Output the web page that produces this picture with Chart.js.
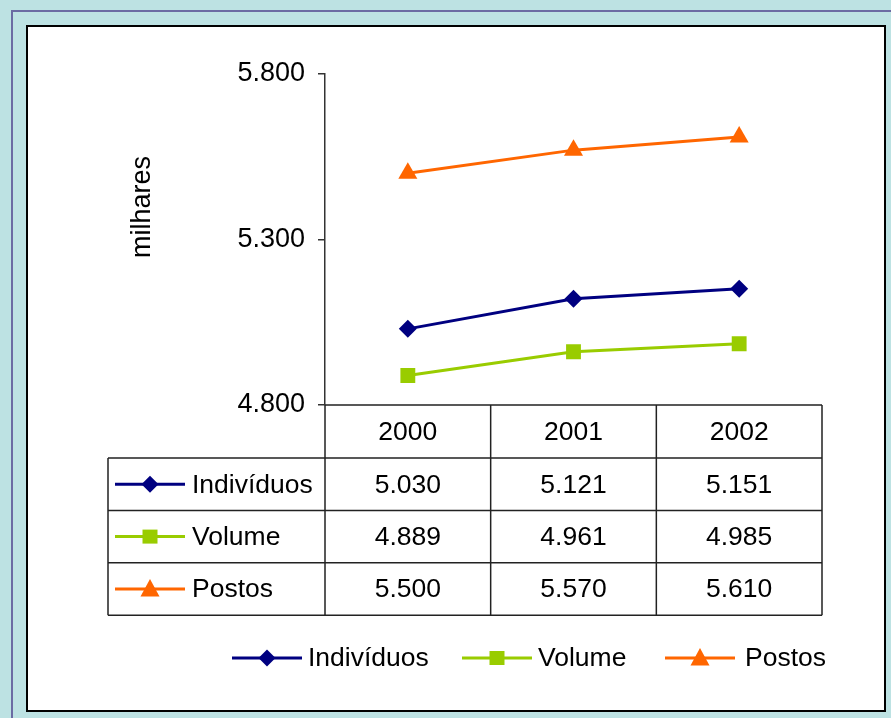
<!DOCTYPE html>
<html>
<head>
<meta charset="utf-8">
<script src="https://cdn.jsdelivr.net/npm/chart.js@4.4.0/dist/chart.umd.min.js"></script>
<style>
  html, body { margin: 0; padding: 0; background: #ffffff; }
  canvas { display: block; }
</style>
</head>
<body>
<canvas id="chart" width="891" height="718"></canvas>
<script>
const years = ['2000', '2001', '2002'];
const individuos = [5030, 5121, 5151];
const volume = [4889, 4961, 4985];
const postos = [5500, 5570, 5610];
const seriesNames = ['Indivíduos', 'Volume', 'Postos'];
const yTitle = 'milhares';

const FONT = '"Liberation Sans", Arial, sans-serif';

// 5030 -> "5.030"
function fmt(n) {
  const s = String(Math.round(n));
  return s.slice(0, -3) + '.' + s.slice(-3);
}

function drawMarker(ctx, style, x, y, color) {
  ctx.save();
  ctx.fillStyle = color;
  ctx.beginPath();
  if (style === 'rectRot') {
    const r = 8.5;
    ctx.moveTo(x, y - r); ctx.lineTo(x + r, y); ctx.lineTo(x, y + r); ctx.lineTo(x - r, y);
  } else if (style === 'rect') {
    ctx.rect(x - 7.5, y - 7, 15, 14);
  } else {
    ctx.moveTo(x, y - 10); ctx.lineTo(x + 9.5, y + 7.5); ctx.lineTo(x - 9.5, y + 7.5);
  }
  ctx.closePath();
  ctx.fill();
  ctx.restore();
}

function legendKey(ctx, ds, x, y) {
  ctx.save();
  ctx.strokeStyle = ds.borderColor;
  ctx.lineWidth = 3;
  ctx.beginPath();
  ctx.moveTo(x, y); ctx.lineTo(x + 70, y);
  ctx.stroke();
  ctx.restore();
  drawMarker(ctx, ds.pointStyle, x + 35, y, ds.backgroundColor);
}

const framePlugin = {
  id: 'frame',
  beforeDraw(chart) {
    const ctx = chart.ctx;
    ctx.save();
    ctx.fillStyle = '#bde2e3';
    ctx.fillRect(0, 0, chart.width, chart.height);
    ctx.fillStyle = '#6b6ba3';
    ctx.fillRect(11, 10, chart.width - 11, 2);
    ctx.fillRect(11, 10, 2, chart.height - 10);
    ctx.fillStyle = '#ffffff';
    ctx.fillRect(26, 25, 860, 687);
    ctx.strokeStyle = '#000000';
    ctx.lineWidth = 2;
    ctx.strokeRect(27, 26, 858, 685);
    ctx.restore();
  },
  afterDraw(chart) {
    const ctx = chart.ctx;
    const xs = chart.scales.x;
    const area = chart.chartArea;
    const n = years.length;
    const colW = (area.right - area.left) / n;
    const top = area.bottom;
    const headH = 53;
    const rowH = 52.4;
    const tableLeft = 108;
    const bottom = top + headH + rowH * 3;

    ctx.save();
    // y-axis title
    ctx.fillStyle = '#000';
    ctx.font = '27px ' + FONT;
    ctx.textAlign = 'center';
    ctx.textBaseline = 'middle';
    ctx.translate(143, 207);
    ctx.rotate(-Math.PI / 2);
    ctx.fillText(yTitle, 0, 0);
    ctx.restore();

    ctx.save();
    ctx.lineWidth = 1.5;
    ctx.strokeStyle = '#222';
    ctx.beginPath();
    // top line (category axis)
    ctx.moveTo(area.left, top); ctx.lineTo(area.right, top);
    for (let r = 0; r <= 3; r++) {
      const y = top + headH + rowH * r;
      ctx.moveTo(tableLeft, y); ctx.lineTo(area.right, y);
    }
    ctx.moveTo(tableLeft, top + headH); ctx.lineTo(tableLeft, bottom);
    for (let i = 0; i <= n; i++) {
      const x = area.left + colW * i;
      ctx.moveTo(x, i === 0 ? area.bottom : top); ctx.lineTo(x, bottom);
    }
    ctx.stroke();

    ctx.fillStyle = '#000';
    ctx.font = '26.5px ' + FONT;
    ctx.textAlign = 'center';
    ctx.textBaseline = 'middle';
    years.forEach((yr, i) => {
      ctx.fillText(yr, xs.getPixelForValue(i), top + headH / 2 + 1);
    });
    chart.data.datasets.forEach((ds, r) => {
      const cy = top + headH + rowH * r + rowH / 2 + 1;
      ds.data.forEach((v, i) => {
        ctx.textAlign = 'center';
        ctx.fillText(fmt(v), xs.getPixelForValue(i), cy);
      });
      legendKey(ctx, ds, 115, cy - 1);
      ctx.textAlign = 'left';
      ctx.fillText(ds.label, 192, cy);
    });

    // bottom legend
    const legendX = [232, 462, 665];
    const textOff = [76, 76, 80];
    const ly = 658;
    chart.data.datasets.forEach((ds, i) => {
      legendKey(ctx, ds, legendX[i], ly);
      ctx.textAlign = 'left';
      ctx.fillText(ds.label, legendX[i] + textOff[i], ly + 1);
    });
    ctx.restore();
  }
};

const ctx = document.getElementById('chart').getContext('2d');
new Chart(ctx, {
  type: 'line',
  data: {
    labels: years,
    datasets: [
      { label: seriesNames[0], data: individuos, borderColor: '#000080', backgroundColor: '#000080', pointStyle: 'rectRot', pointRadius: 9 },
      { label: seriesNames[1], data: volume, borderColor: '#99cc00', backgroundColor: '#99cc00', pointStyle: 'rect', pointRadius: 10.5 },
      { label: seriesNames[2], data: postos, borderColor: '#ff6600', backgroundColor: '#ff6600', pointStyle: 'triangle', pointRadius: 11 }
    ].map(ds => Object.assign(ds, { borderWidth: 3, tension: 0, pointBorderWidth: 0, fill: false }))
  },
  options: {
    responsive: false,
    animation: false,
    events: [],
    font: { family: FONT },
    layout: { padding: { left: 125, top: 74, right: 69, bottom: 313 } },
    plugins: {
      legend: { display: false },
      tooltip: { enabled: false }
    },
    scales: {
      x: { display: false, offset: true },
      y: {
        min: 4800,
        max: 5800,
        afterFit: scale => { scale.width = 200; },
        ticks: {
          stepSize: 500,
          padding: 13,
          color: '#000',
          font: { size: 27, family: FONT },
          callback: v => fmt(v)
        },
        grid: { drawOnChartArea: false, drawTicks: true, tickLength: 7, color: '#333', lineWidth: 1.5 },
        border: { display: true, color: '#333', width: 1.5 }
      }
    }
  },
  plugins: [framePlugin]
});
</script>
</body>
</html>
